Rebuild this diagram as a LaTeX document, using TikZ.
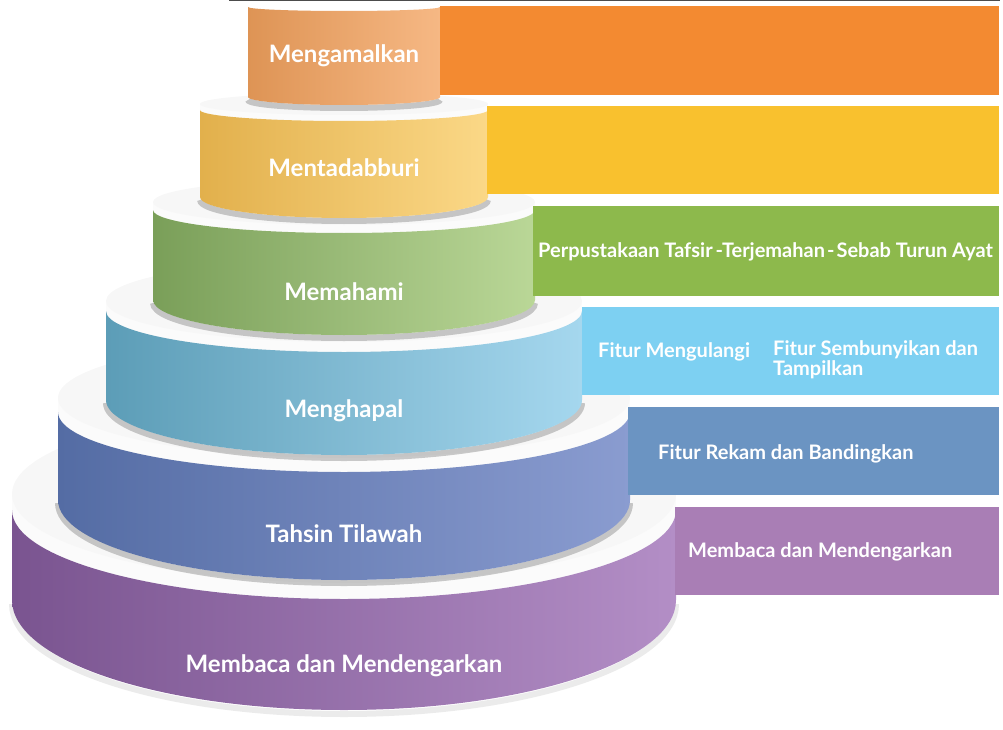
\documentclass[tikz,border=0pt]{standalone}
\usepackage{fontspec}
\setmainfont{Lato}

\definecolor{orangeL}{HTML}{DE9455}
\definecolor{orangeM}{HTML}{D99058}
\definecolor{orangeR}{HTML}{F6B884}
\definecolor{yellowL}{HTML}{E2B04C}
\definecolor{yellowM}{HTML}{E9C268}
\definecolor{yellowR}{HTML}{FBD887}
\definecolor{greenL}{HTML}{7A9F59}
\definecolor{greenM}{HTML}{94B672}
\definecolor{greenR}{HTML}{BAD797}
\definecolor{lblueL}{HTML}{5C9DB7}
\definecolor{lblueM}{HTML}{6FAEC7}
\definecolor{lblueR}{HTML}{A5D7EE}
\definecolor{blueL}{HTML}{546CA4}
\definecolor{blueM}{HTML}{7A86AF}
\definecolor{blueR}{HTML}{8A9CD0}
\definecolor{purpleL}{HTML}{7A5490}
\definecolor{purpleM}{HTML}{8A6A98}
\definecolor{purpleR}{HTML}{B38EC6}

\definecolor{orangebar}{HTML}{F38A31}
\definecolor{yellowbar}{HTML}{F9C12E}
\definecolor{greenbar}{HTML}{8DB94C}
\definecolor{lbluebar}{HTML}{7DD0F2}
\definecolor{bluebar}{HTML}{6B94C2}
\definecolor{purplebar}{HTML}{A97EB5}

\begin{document}
\begin{tikzpicture}[x=1pt, y=-1pt,
	toprim/.style={fill=gray!3},
	topface/.style={fill=gray!6},
	undershadow/.style={draw=black, opacity=0.2, line width=6pt},
	tiertext/.style={text=white, font=\fontsize{24}{26}\selectfont\bfseries, anchor=base, inner sep=0pt},
	bartext/.style={text=white, font=\fontsize{20}{18}\selectfont\bfseries, anchor=base west, inner sep=0pt, align=left}]

	\useasboundingbox (0, 0) rectangle (1003, 730);

	% purple
	\draw[undershadow, opacity=0.08] (12, 604) arc[start angle=180, end angle=0, x radius=332, y radius=110];
	\fill[toprim] (344, 510) ellipse (332 and 89);
	\fill[toprim] (12, 494) rectangle (676, 510);
	\fill[topface] (344, 494) ellipse (332 and 89);
	\shade[left color=purpleL, middle color=purpleM, right color=purpleR] (12, 510) -- (12, 600) arc[start angle=180, end angle=0, x radius=332, y radius=110] -- (676, 510) arc[start angle=0, end angle=180, x radius=332, y radius=89] -- cycle;

	% blue
	\draw[undershadow] (58, 503) arc[start angle=180, end angle=0, x radius=286, y radius=80];
	\fill[toprim] (344, 412) ellipse (286 and 60);
	\fill[toprim] (58, 398) rectangle (630, 412);
	\fill[topface] (344, 398) ellipse (286 and 60);
	\shade[left color=blueL, middle color=blueM, right color=blueR] (58, 412) -- (58, 500) arc[start angle=180, end angle=0, x radius=286, y radius=80] -- (630, 412) arc[start angle=0, end angle=180, x radius=286, y radius=60] -- cycle;

	% light blue
	\draw[undershadow] (106, 403) arc[start angle=180, end angle=0, x radius=238, y radius=55];
	\fill[toprim] (344, 311) ellipse (238 and 41);
	\fill[toprim] (106, 301) rectangle (582, 311);
	\fill[topface] (344, 301) ellipse (238 and 41);
	\shade[left color=lblueL, middle color=lblueM, right color=lblueR] (106, 311) -- (106, 400) arc[start angle=180, end angle=0, x radius=238, y radius=55] -- (582, 311) arc[start angle=0, end angle=180, x radius=238, y radius=41] -- cycle;

	% green
	\draw[undershadow] (153, 303) arc[start angle=180, end angle=0, x radius=191, y radius=35];
	\fill[toprim] (344, 210) ellipse (191 and 23);
	\fill[toprim] (153, 202) rectangle (535, 210);
	\fill[topface] (344, 202) ellipse (191 and 23);
	\shade[left color=greenL, middle color=greenM, right color=greenR] (153, 210) -- (153, 300) arc[start angle=180, end angle=0, x radius=191, y radius=35] -- (535, 210) arc[start angle=0, end angle=180, x radius=191, y radius=23] -- cycle;

	% yellow
	\draw[undershadow] (200, 200) arc[start angle=180, end angle=0, x radius=144, y radius=21];
	\fill[toprim] (344, 110) ellipse (144 and 11);
	\fill[toprim] (200, 104) rectangle (488, 110);
	\fill[topface] (344, 104) ellipse (144 and 11);
	\shade[left color=yellowL, middle color=yellowM, right color=yellowR] (200, 110) -- (200, 197) arc[start angle=180, end angle=0, x radius=144, y radius=21] -- (488, 110) arc[start angle=0, end angle=180, x radius=144, y radius=11] -- cycle;

	% orange
	\draw[undershadow] (248, 100) arc[start angle=180, end angle=0, x radius=96, y radius=8];
	\shade[left color=orangeL, middle color=orangeM, right color=orangeR] (248, 7) -- (248, 97) arc[start angle=180, end angle=0, x radius=96, y radius=8] -- (440, 7) arc[start angle=0, end angle=180, x radius=96, y radius=4] -- cycle;

	\draw[gray!60!black, line width=1.5pt] (229, 0.75) -- (1000, 0.75);

	% bars
	\fill[orangebar] (440, 6) rectangle (999, 95);
	\fill[yellowbar] (487, 106) rectangle (999, 194);
	\fill[greenbar] (533, 206) rectangle (999, 296);
	\fill[lbluebar] (582, 307) rectangle (999, 395);
	\fill[bluebar] (628, 407) rectangle (999, 495);
	\fill[purplebar] (675, 507) rectangle (999, 595);

	\node[tiertext] (amal) at (344, 63) {Mengamalkan};
	\node[tiertext] (tadabbur) at (344, 177) {Mentadabburi};
	\node[tiertext] (paham) at (344, 300) {Memahami};
	\node[tiertext] (hapal) at (344, 417) {Menghapal};
	\node[tiertext] (tahsin) at (344, 542) {Tahsin Tilawah};
	\node[tiertext] (baca) at (344, 672) {Membaca dan Mendengarkan};

	\node[bartext] (tafsir) at (538, 257) {Perpustakaan Tafsir\hspace{3pt}-Terjemahan\hspace{2pt}-\hspace{2pt}Sebab Turun Ayat};
	\node[bartext] (ulang) at (598, 357) {Fitur Mengulangi};
	\node[bartext] (sembunyi) at (773, 375) {Fitur Sembunyikan dan\\Tampilkan};
	\node[bartext] (rekam) at (658, 459) {Fitur Rekam dan Bandingkan};
	\node[bartext] (dengar) at (688, 557) {Membaca dan Mendengarkan};

\end{tikzpicture}
\end{document}
